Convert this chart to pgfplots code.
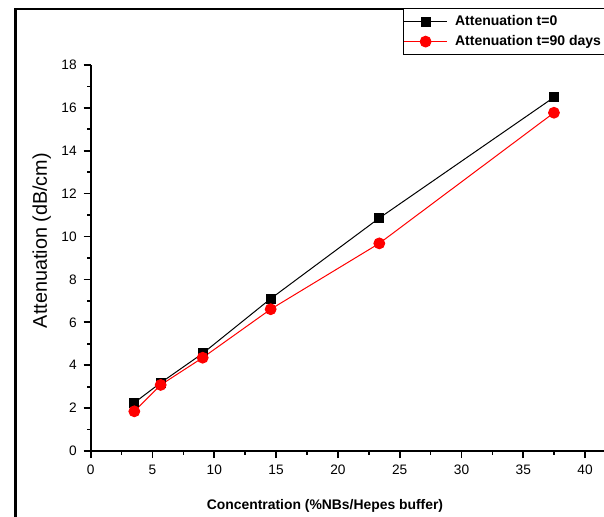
\documentclass[border=0pt]{standalone}
\usepackage{fontspec}
\setmainfont{Liberation Sans}
\usepackage{pgfplots}
\pgfplotsset{compat=1.18}
\begin{document}
\begin{tikzpicture}
\path[use as bounding box] (-45.35pt,-32.5pt) rectangle (256.65pt,225.5pt);
\clip (-45.35pt,-32.5pt) rectangle (256.65pt,225.5pt);
\draw[line width=1.3pt] (-37.6pt,221pt) rectangle (275pt,-45pt);
\begin{axis}[
  at={(0,0)}, anchor=south west,
  scale only axis,
  x=6.18pt, y=10.725pt,
  xmin=0, xmax=42, ymin=0, ymax=18,
  axis lines=left,
  axis line style={-, line width=0.85pt},
  tick style={line width=0.85pt, black},
  tick align=outside,
  major tick length=3.5pt,
  minor tick length=1.75pt,
  xtick={0,5,...,40},
  ytick={0,2,...,18},
  minor x tick num=1,
  minor y tick num=1,
  /pgf/number format/assume math mode=true,
  tick label style={font=\fontsize{6.85}{8}\selectfont},
  xlabel={\textbf{Concentration (\%NBs/Hepes buffer)}},
  ylabel={Attenuation (dB/cm)},
  xlabel style={at={(axis description cs:0.4513,-0.1424)}, anchor=center, font=\fontsize{6.95}{8}\selectfont},
  ylabel style={at={(axis description cs:-0.0944,0.545)}, anchor=center, font=\fontsize{9.9}{11}\selectfont},
  legend cell align=left,
  legend image code/.code={\draw[mark repeat=2,mark phase=2,#1] plot coordinates {(0pt,0pt) (10.8pt,0pt) (21.65pt,0pt)};},
  legend style={at={(axis description cs:0.6016,1.1474)}, anchor=north west,
    draw=black, line width=0.5pt, inner xsep=0pt, inner ysep=2pt,
    column sep=1.8pt, row sep=0.9pt,
    font=\fontsize{7.0}{8}\selectfont\bfseries,
    nodes={inner xsep=1.85pt, inner ysep=1.2pt, text height=5.2pt, text depth=1.5pt}},
]
\addplot[black, line width=0.5pt, mark=square*, mark size=2.25pt, mark options={solid, fill=black}]
  coordinates {(3.53,2.25) (5.66,3.18) (9.06,4.55) (14.56,7.10) (23.35,10.86) (37.48,16.49)};
\addlegendentry{Attenuation t=0}
\addplot[red, line width=0.5pt, mark=*, mark size=2.7pt, mark options={solid, fill=red}]
  coordinates {(3.53,1.85) (5.66,3.08) (9.06,4.35) (14.56,6.61) (23.35,9.68) (37.48,15.77)};
\addlegendentry{Attenuation t=90 days}
\end{axis}
\end{tikzpicture}
\end{document}
